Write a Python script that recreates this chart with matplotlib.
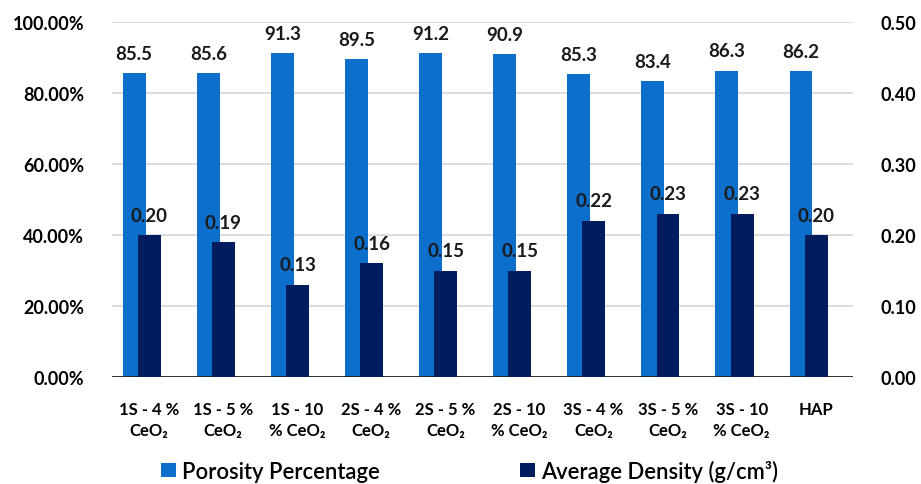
import numpy as np
import matplotlib
matplotlib.use("Agg")
import matplotlib.pyplot as plt
from matplotlib.ticker import FuncFormatter

plt.rcParams['font.family'] = ['Lato', 'DejaVu Sans']
plt.rcParams['font.weight'] = 'bold'

# sample groups and measured values
samples = ["1S - 4 %\nCeO\u2082", "1S - 5 %\nCeO\u2082", "1S - 10\n% CeO\u2082",
           "2S - 4 %\nCeO\u2082", "2S - 5 %\nCeO\u2082", "2S - 10\n% CeO\u2082",
           "3S - 4 %\nCeO\u2082", "3S - 5 %\nCeO\u2082", "3S - 10\n% CeO\u2082", "HAP"]
porosity = [85.5, 85.6, 91.3, 89.5, 91.2, 90.9, 85.3, 83.4, 86.3, 86.2]
density = [0.20, 0.19, 0.13, 0.16, 0.15, 0.15, 0.22, 0.23, 0.23, 0.20]

blue = "#0B6FCB"
navy = "#021C5E"

fig = plt.figure(figsize=(9.21, 4.85), dpi=100)
ax = fig.add_axes([0.1216, 0.2206, 0.8044, 0.732])
ax2 = ax.twinx()

x = np.arange(len(samples))
w = 0.31
b1 = ax.bar(x - 0.2, porosity, w, color=blue, zorder=2, label="Porosity Percentage")
b2 = ax2.bar(x + 0.005, density, w, color=navy, zorder=3, label="Average Density (g/cm\u00b3)")

ax.set_xlim(-0.5, len(samples) - 0.5)
ax.set_ylim(0, 100)
ax2.set_ylim(0, 0.5)
ax.set_yticks(np.arange(0, 101, 20))
ax2.set_yticks(np.arange(0, 0.51, 0.1))
ax.yaxis.set_major_formatter(FuncFormatter(lambda v, p: f"{v:.2f}%"))
ax2.yaxis.set_major_formatter(FuncFormatter(lambda v, p: f"{v:.2f}"))

ax.grid(axis='y', color="#D9D9D9", linewidth=1.3, zorder=0)
ax.set_axisbelow(True)
for a in (ax, ax2):
    for s in ("top", "left", "right", "bottom"):
        a.spines[s].set_visible(False)
    a.tick_params(length=0, labelsize=13)
ax.axhline(0, color="#222222", linewidth=1.3, zorder=4)
ax.tick_params(axis='y', pad=20)
ax2.tick_params(axis='y', pad=20)

ax.set_xticks(x)
ax.set_xticklabels(samples, fontsize=12, linespacing=1.4)
ax.tick_params(axis='x', pad=17)

for xi, v in zip(x, porosity):
    ax.text(xi - 0.2, v + 3.2, f"{v}", ha='center', va='bottom', fontsize=13.5, color="#1a1a1a")
for xi, v in zip(x, density):
    ax2.text(xi + 0.005, v + 0.016, f"{v:.2f}", ha='center', va='bottom', fontsize=13.5, color="#1a1a1a")

fig.legend(handles=[b1, b2], loc='lower center', bbox_to_anchor=(0.51, -0.036), ncol=2,
           frameon=False, handlelength=0.65, handleheight=0.65,
           handletextpad=0.3, columnspacing=6.4, prop={'weight': 'semibold', 'size': 15.8})

fig.savefig("out.png", dpi=100)
